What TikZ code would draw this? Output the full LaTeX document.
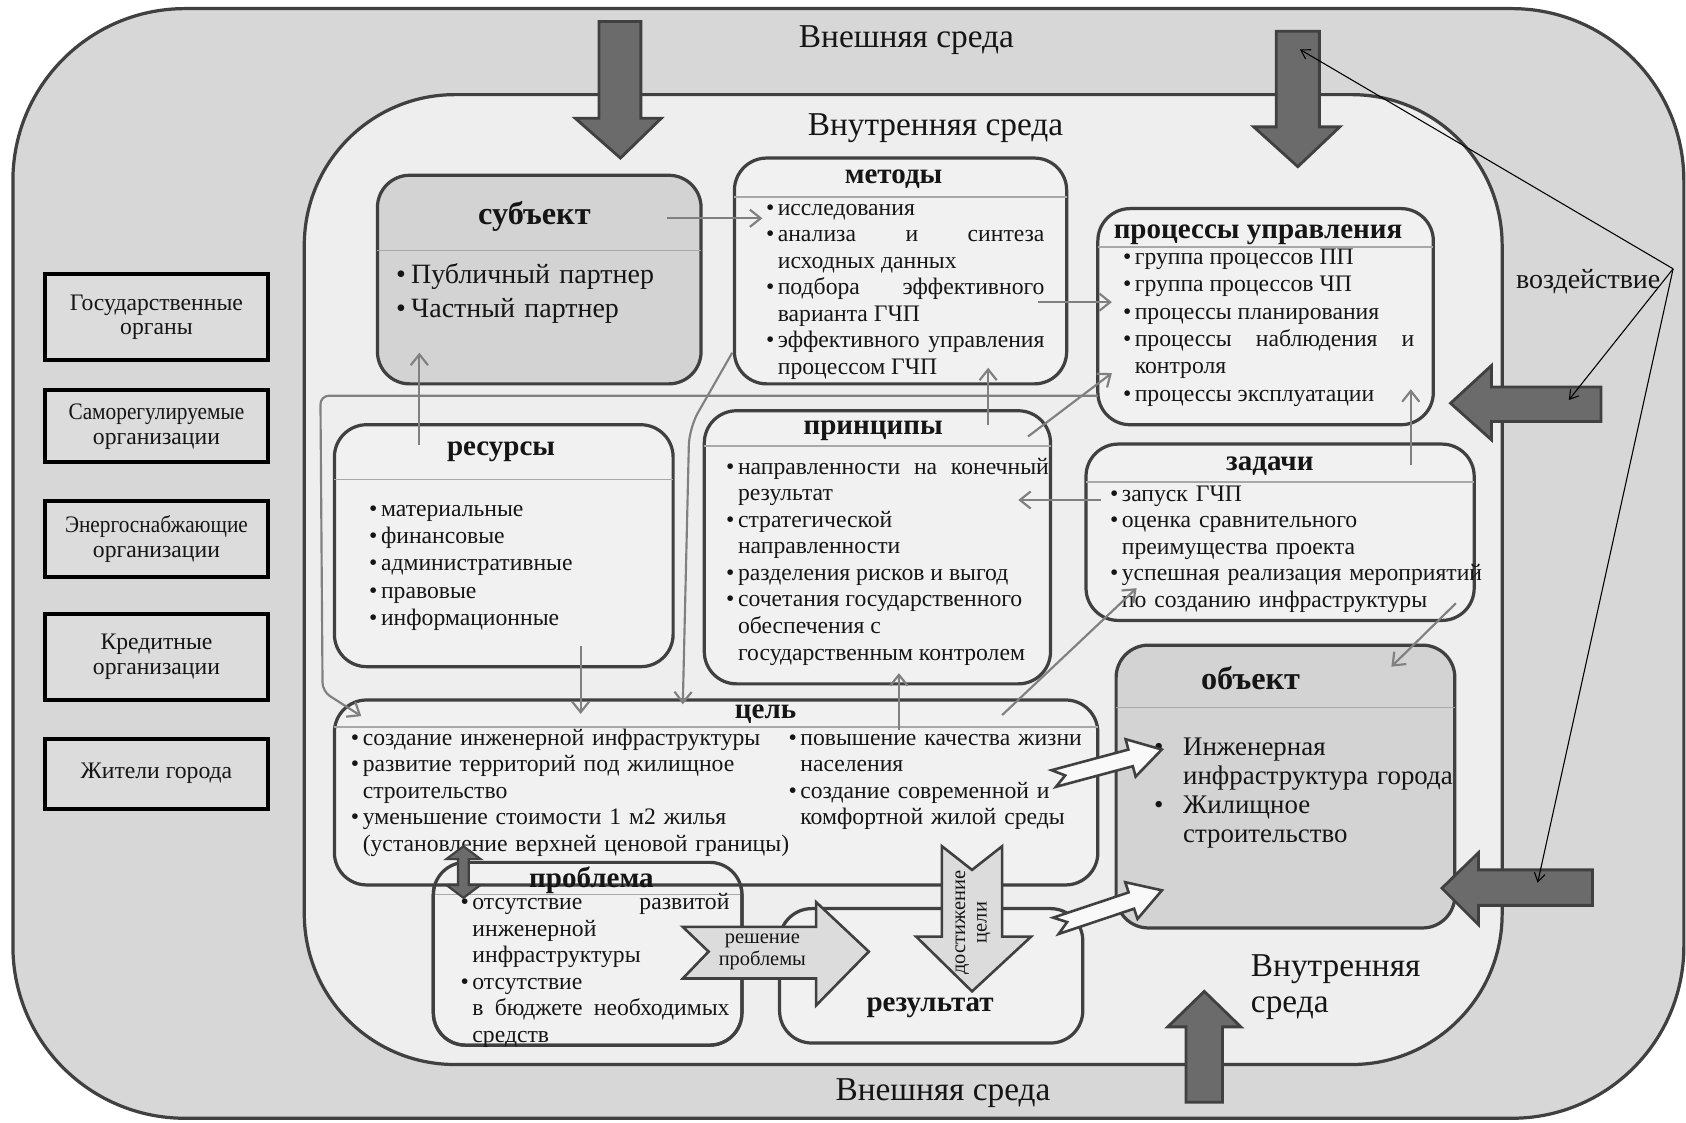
\documentclass[tikz,border=0pt]{standalone}
\usepackage{fontspec}
\setmainfont{Liberation Serif}
\usetikzlibrary{arrows.meta,fit}

\definecolor{outerbg}{HTML}{D7D7D7}
\definecolor{innerbg}{HTML}{EEEEEE}
\definecolor{cardbg}{HTML}{F1F1F1}
\definecolor{darkbg}{HTML}{D3D3D3}
\definecolor{orgbg}{HTML}{DCDCDC}
\definecolor{edge}{HTML}{404040}
\definecolor{link}{HTML}{808080}
\definecolor{heavy}{HTML}{6B6B6B}
\definecolor{rulecol}{HTML}{A8A8A8}
\definecolor{ink}{HTML}{151515}

\newlength\bulw
\setlength\bulw{5.5pt}
\newcommand\bitem[1]{\hangindent=\bulw\hangafter=1\noindent\makebox[\bulw][l]{\textbullet}#1\par}

\tikzset{
  frame/.style={draw=edge, line width=1.5pt},
  card/.style={draw=edge, line width=1.5pt, rounded corners=15pt, fill=cardbg, inner sep=0pt},
  orgbox/.style={draw=black, line width=1.8pt, fill=orgbg, inner sep=0pt},
  orgtxt/.style={inner sep=0pt, align=center, text=ink, font=\fontsize{11}{11.5}\selectfont},
  sepline/.style={draw=rulecol, line width=0.8pt},
  title/.style={inner sep=0pt, text=ink, font=\bfseries\fontsize{13.5}{15}\selectfont},
  bigtitle/.style={title, font=\bfseries\fontsize{15}{17}\selectfont},
  txt/.style={inner sep=0pt, anchor=base west, align=left, text=ink,
    font=\fontsize{11}{12.35}\selectfont},
  jtxt/.style={txt, align=justify},
  bigtxt/.style={inner sep=0pt, text=ink, font=\fontsize{15.5}{17}\selectfont},
  link/.style={draw=link, line width=1pt, -{Straight Barb[length=5pt,width=8pt]}},
  pointer/.style={draw=black, line width=0.5pt, -{Straight Barb[length=4pt,width=5pt]}},
  heavyarrow/.style={draw=edge, line width=1.3pt, fill=heavy},
  lightarrow/.style={draw=edge, line width=1.2pt, fill=orgbg},
  hollowarrow/.style={draw=edge, line width=1.2pt, fill=white!95!gray},
  lbl/.style={inner sep=0pt, text=ink, align=center, font=\fontsize{9.5}{10}\selectfont}
}

\begin{document}
\begin{tikzpicture}[x=0.5pt,y=-0.5pt]
\useasboundingbox (0,0) rectangle (1568,1044);
% environments
\draw[frame, fill=outerbg, rounded corners=80pt] (12,8) rectangle (1566,1040);
\draw[frame, fill=innerbg, rounded corners=70pt] (283,88) rectangle (1397,990);
\node[bigtxt] (extTop) at (843,37) {Внешняя среда};
\node[bigtxt] (intTop) at (870,119) {Внутренняя среда};
\node[bigtxt] (extBot) at (877,1017) {Внешняя среда};
\node[bigtxt, align=left, anchor=west] (intBot) at (1163,918) {Внутренняя\\среда};
\node[inner sep=0pt, text=ink, font=\fontsize{13}{15}\selectfont] (impact) at (1477,262) {воздействие};

% participants on the left
\node[orgbox, fit={(42,255) (249,335)}] (gov) {};
\node[orgbox, fit={(42,363) (249,430)}] (sro) {};
\node[orgbox, fit={(42,466) (249,537)}] (energy) {};
\node[orgbox, fit={(42,571) (249,651)}] (credit) {};
\node[orgbox, fit={(42,687) (249,752)}] (people) {};
\node[orgtxt] (govT) at (gov) {Государственные\\органы};
\node[orgtxt] (sroT) at (sro) {\scalebox{0.9}[1]{Саморегулируемые}\\организации};
\node[orgtxt] (energyT) at (energy) {\scalebox{0.9}[1]{Энергоснабжающие}\\организации};
\node[orgtxt] (creditT) at (credit) {Кредитные\\организации};
\node[orgtxt] (peopleT) at (people) {Жители города};

% субъект
\node[card, fill=darkbg, fit={(351,163) (652,357)}] (subj) {};
\draw[sepline] (351,233) -- (652,233);
\node[bigtitle] (subjT) at (497,201) {субъект};
\node[txt, font=\fontsize{13}{15.5}\selectfont, text width=140pt] (subjL) at (368,264)
  {\setlength\bulw{7pt}\bitem{Публичный партнер}\bitem{Частный партнер}};

% методы
\node[card, fit={(683,147) (992,357)}] (meth) {};
\draw[sepline] (683,183) -- (992,183);
\node[title] (methT) at (831,167) {методы};
\node[jtxt, text width=129.5pt] (methL) at (712,200)
  {\bitem{исследования}
   \bitem{анализа и синтеза\linebreak исходных данных}
   \bitem{подбора эффективного\linebreak варианта ГЧП}
   \bitem{эффективного управления\linebreak процессом ГЧП}};

% процессы управления
\node[card, fit={(1021,194) (1333,395)}] (proc) {};
\draw[sepline] (1021,230) -- (1333,230);
\node[title] (procT) at (1170,218) {процессы управления};
\node[jtxt, text width=135.5pt, font=\fontsize{11}{12.7}\selectfont] (procL) at (1044,246)
  {\bitem{группа процессов ПП}
   \bitem{группа процессов ЧП}
   \bitem{процессы планирования}
   \bitem{процессы наблюдения и\linebreak контроля}
   \bitem{процессы эксплуатации}};

% ресурсы
\node[card, fit={(311,395) (626,620)}] (res) {};
\draw[sepline] (311,446) -- (626,446);
\node[title] (resT) at (466,420) {ресурсы};
\node[txt, text width=130pt, font=\fontsize{11}{12.75}\selectfont] (resL) at (343,480)
  {\bitem{материальные}\bitem{финансовые}\bitem{административные}\bitem{правовые}\bitem{информационные}};

% принципы
\node[card, fit={(655,382) (977,636)}] (princ) {};
\draw[sepline] (655,415) -- (977,415);
\node[title] (princT) at (812,401) {принципы};
\node[jtxt, text width=150pt] (princL) at (675,441)
  {\bitem{направленности на конечный\linebreak результат}
   \bitem{стратегической\newline направленности}
   \bitem{разделения рисков и выгод}
   \bitem{сочетания государственного\newline обеспечения с\newline государственным контролем}};

% задачи
\node[card, fit={(1010,413) (1371,577)}] (task) {};
\draw[sepline] (1010,448) -- (1371,448);
\node[title] (taskT) at (1181,434) {задачи};
\node[txt, text width=175pt] (taskL) at (1032,466)
  {\bitem{запуск ГЧП}
   \bitem{оценка сравнительного\newline преимущества проекта}
   \bitem{успешная реализация мероприятий\newline по созданию инфраструктуры}};

% объект
\node[card, fill=darkbg, fit={(1038,600) (1353,863)}] (obj) {};
\draw[sepline] (1038,658) -- (1353,658);
\node[bigtitle] (objT) at (1163,631) {объект};
\node[txt, font=\fontsize{12.5}{13.4}\selectfont, text width=150pt] (objL) at (1073,703)
  {\setlength\bulw{13.5pt}\bitem{Инженерная\newline инфраструктура города}
   \bitem{Жилищное\newline строительство}};

% проблема (under цель)
\node[card, fit={(403,802) (690,972)}] (prob) {};
\draw[sepline] (403,832) -- (690,832);

% цель
\node[card, fit={(311,651) (1021,823)}] (goal) {};
\draw[sepline] (311,676) -- (1021,676);
\draw[draw=edge, line width=1.5pt, rounded corners=15pt] (403,802) -- (403,972) -- (690,972) -- (690,802) -- cycle;
\node[title] (goalT) at (712,664) {цель};
\node[txt, text width=220pt] (goalL) at (326,693)
  {\bitem{создание инженерной инфраструктуры}
   \bitem{развитие территорий под жилищное\newline строительство}
   \bitem{уменьшение стоимости 1 м2 жилья\newline (установление верхней ценовой границы)}};
\node[txt, text width=140pt] (goalR) at (733,693)
  {\bitem{повышение качества жизни\newline населения}
   \bitem{создание современной и\newline комфортной жилой среды}};

\node[title] (probT) at (550,819) {проблема};
\node[jtxt, text width=125pt] (probL) at (428,846)
  {\bitem{отсутствие развитой\linebreak инженерной\newline инфраструктуры}
   \bitem{отсутствие\newline в бюджете необходимых\linebreak средств}};

% результат
\node[card, fit={(725,845) (1007,970)}] (outc) {};
\node[title] (outcT) at (865,937) {результат};

% links between blocks
\coordinate (subjA) at (620,203);  \coordinate (methA) at (709,203);
\coordinate (methB) at (965,281);  \coordinate (procA) at (1034,281);
\coordinate (resA)  at (390,414);  \coordinate (subjB) at (390,328);
\coordinate (resB)  at (540,601);  \coordinate (goalA) at (540,664);
\coordinate (princA) at (919,395); \coordinate (methC) at (919,342);
\coordinate (princB) at (956,406); \coordinate (procB) at (1034,347);
\coordinate (taskA) at (1024,465); \coordinate (princC) at (947,465);
\coordinate (taskB) at (1312,432); \coordinate (procC) at (1312,362);
\coordinate (taskC) at (1354,561); \coordinate (objA) at (1294,620);
\coordinate (goalB) at (932,665);  \coordinate (taskD) at (1057,547);
\coordinate (goalC) at (836,679);  \coordinate (princD) at (836,626);
\coordinate (methD) at (681,328);  \coordinate (goalD) at (635,655);
\coordinate (procD) at (1021,368); \coordinate (goalE) at (336,666);
\draw[link] (subjA) -- (methA);
\draw[link] (methB) -- (procA);
\draw[link] (resA) -- (subjB);
\draw[link] (resB) -- (goalA);
\draw[link] (princA) -- (methC);
\draw[link] (princB) -- (procB);
\draw[link] (taskA) -- (princC);
\draw[link] (taskB) -- (procC);
\draw[link] (taskC) -- (objA);
\draw[link] (goalB) -- (taskD);
\draw[link] (goalC) -- (princD);
\draw[link, rounded corners=8pt] (methD) -- (641,398) -- (goalD);
\draw[link, rounded corners=4pt] (procD) -- (298,368) -- (300,643) -- (goalE);

% цель <-> проблема
\draw[heavyarrow, line width=1pt] (431,787) -- (447,799) -- (436,799) -- (436,823) -- (447,823) -- (431,835)
  -- (415,823) -- (426,823) -- (426,799) -- (415,799) -- cycle;

% решение проблемы
\draw[lightarrow] (635,862) -- (759,862) -- (759,839) -- (808,885) -- (759,935) -- (759,910)
  -- (635,910) -- (659,885) -- cycle;
\node[lbl] (solve) at (709,885) {решение\\проблемы};

% достижение цели
\draw[lightarrow] (876,787) -- (904,809) -- (932,787) -- (932,871) -- (959,871) -- (904,922)
  -- (852,871) -- (876,871) -- cycle;
\node[lbl, rotate=90] (reach) at (905,858) {достижение\\цели};

% hollow arrows towards объект
\foreach \sx/\sy/\ang in {980/724/15, 982/861/18.5}{
  \begin{scope}[shift={(\sx,\sy)}, rotate=\ang]
    \draw[hollowarrow] (0,-8) -- (74,-8) -- (74,-18) -- (104,0) -- (74,18) -- (74,8) -- (0,8) -- (11,0) -- cycle;
  \end{scope}
}

% external influences
\draw[heavyarrow] (557,20) -- (596,20) -- (596,110) -- (615,110) -- (577,147) -- (535,110) -- (557,110) -- cycle;
\draw[heavyarrow] (1187,29) -- (1227,29) -- (1227,118) -- (1246,118) -- (1207,155) -- (1166,118) -- (1187,118) -- cycle;
\draw[heavyarrow] (1489,360) -- (1489,392) -- (1387,392) -- (1387,409) -- (1349,375) -- (1387,340) -- (1387,360) -- cycle;
\draw[heavyarrow] (1481,809) -- (1481,842) -- (1375,842) -- (1375,860) -- (1341,826) -- (1375,793) -- (1375,809) -- cycle;
\draw[heavyarrow] (1103,1025) -- (1137,1025) -- (1137,955) -- (1154,955) -- (1120,922) -- (1086,955) -- (1103,955) -- cycle;

% воздействие pointers
\coordinate (imp) at (1556,250);
\coordinate (impA) at (1209,46);
\coordinate (impB) at (1459,372);
\coordinate (impC) at (1430,821);
\draw[pointer] (imp) -- (impA);
\draw[pointer] (imp) -- (impB);
\draw[pointer] (imp) -- (impC);
\end{tikzpicture}
\end{document}
